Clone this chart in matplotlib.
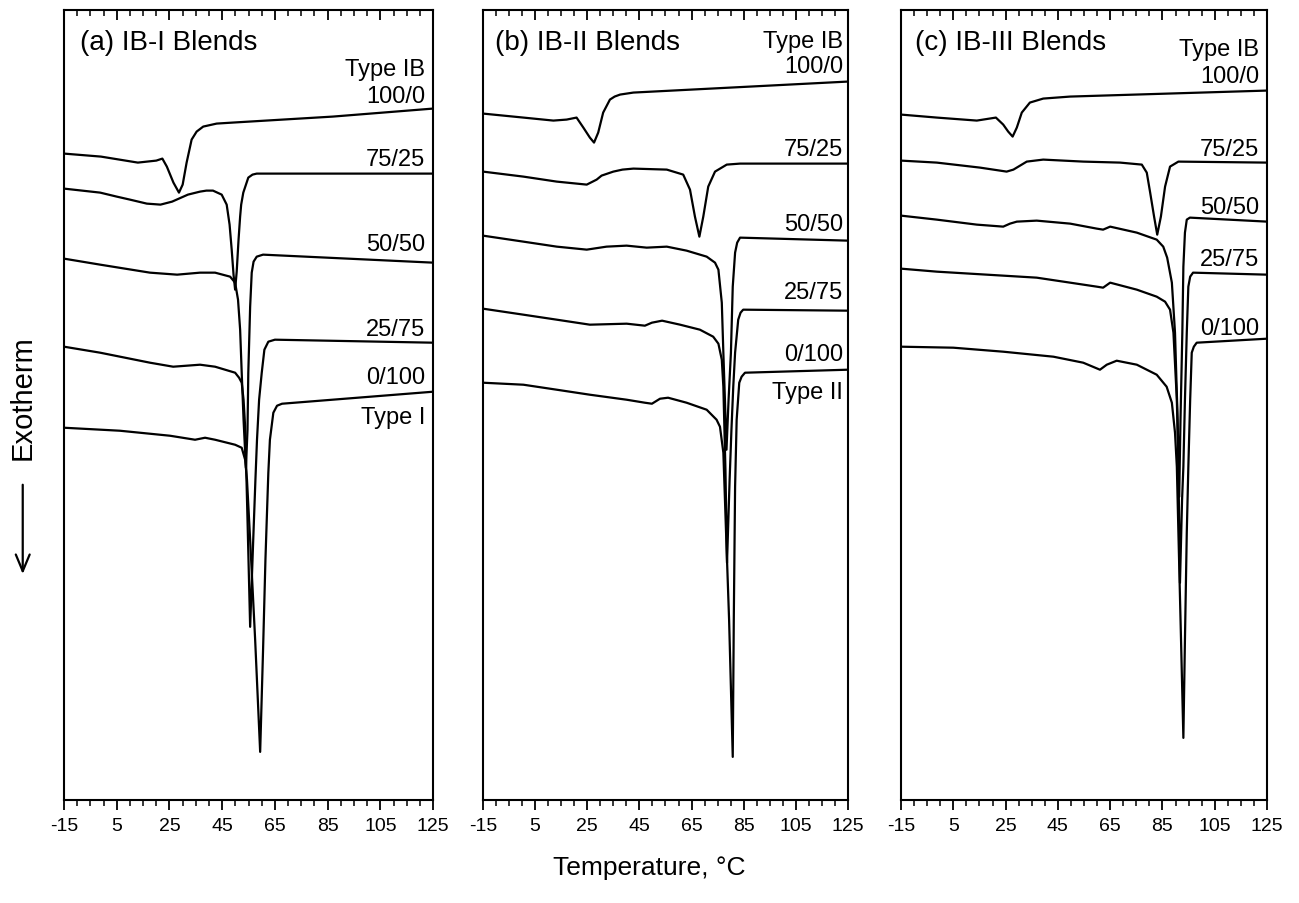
import matplotlib
matplotlib.use('Agg')
import matplotlib.pyplot as plt
import matplotlib.lines as mlines
from matplotlib.patches import FancyArrowPatch

plt.rcParams['font.family'] = ['Liberation Sans', 'DejaVu Sans']

# --- DSC traces (T in degC, signal in arbitrary offset units) ---
# (a) IB-I blends
a_T_100 = [-15, -1, 13, 20, 22.3, 24, 26.5, 28.6, 30, 31.5, 33.4, 35.3, 37.8, 42.9, 49, 87, 125]
a_V_100 = [646, 643, 637, 639, 641, 633, 617, 607, 615, 637, 660, 668, 673, 676, 677, 683, 691]
a_T_75 = [-15, -1.3, 5, 10, 16.4, 21.6, 26, 32, 36.6, 39, 41.5, 44.8, 46.7, 47.8, 48.6, 49.3, 49.9, 50.5, 51.2, 51.8, 52.2, 53, 54.9, 56.5, 58.1, 125]
a_V_75 = [611, 607, 603, 600, 596, 595, 598, 605, 608, 609, 609, 605, 595, 575, 550, 525, 510, 528, 560, 583, 595, 607, 622, 625, 626, 626]
a_T_50 = [-15, -1.3, 17.6, 27.9, 36.6, 42.3, 48, 49.9, 51, 51.8, 52.4, 53.1, 54, 54.6, 54.9, 55.6, 56.2, 56.9, 58.1, 60.5, 125]
a_V_50 = [541, 535, 527, 525, 527, 527, 523, 517, 500, 470, 427, 380, 332, 370, 427, 493, 527, 538, 543, 545, 537]
a_T_25 = [-15, -1.3, 17.6, 26.4, 36.6, 42.3, 49.9, 51.4, 52.4, 53.1, 53.7, 54.6, 55.6, 56.7, 57.6, 58.2, 59, 60, 61, 62.5, 65, 125]
a_V_25 = [453, 447, 437, 433, 435, 433, 427, 422, 417, 400, 373, 280, 173, 255, 320, 360, 400, 427, 450, 458, 460, 457]
a_T_0 = [-15, 6.2, 25.2, 34.7, 38.5, 42.3, 49.9, 52.4, 53.7, 54.4, 55.6, 57.5, 59.4, 60.5, 61.4, 61.9, 62.5, 63.1, 64.4, 65.8, 67.7, 125]
a_V_0 = [372, 369, 364, 360, 362, 360, 355, 352, 340, 320, 260, 160, 48, 150, 240, 280, 327, 360, 387, 394, 396, 408]

# (b) IB-II blends
b_T_100 = [-15, 0.5, 12, 17.1, 20.9, 23.5, 26, 27.6, 29.2, 31.1, 33.7, 35.5, 37.6, 42.7, 125]
b_V_100 = [686, 682, 679, 680, 682, 672, 662, 657, 667, 687, 700, 703, 705, 707, 718]
b_T_75 = [-15, 0.5, 13.3, 24.8, 28.6, 30.5, 35, 38.5, 42.7, 55.5, 61.8, 64.4, 66.3, 68, 69.5, 71.4, 74, 78.5, 83.6, 125]
b_V_75 = [628, 623, 618, 615, 620, 624, 628, 630, 631, 630, 625, 610, 583, 563, 583, 613, 628, 635, 636, 636]
b_T_50 = [-15, 0.5, 13.3, 24.8, 32.4, 40.1, 47.8, 55.5, 63.1, 70.8, 74, 75.3, 76.6, 77.2, 77.8, 78.4, 79.2, 80.1, 80.8, 81.7, 82.5, 83.6, 125]
b_V_50 = [564, 558, 553, 550, 553, 554, 552, 553, 549, 543, 537, 530, 497, 447, 400, 350, 400, 447, 513, 547, 557, 562, 559]
b_T_25 = [-15, 0.5, 13.3, 26, 40.1, 47.1, 49.8, 53.7, 60.6, 68.2, 73.3, 75.3, 76.6, 77.2, 78, 78.6, 79.6, 80.3, 81, 81.7, 82.9, 83.8, 84.8, 125]
b_V_25 = [491, 485, 480, 475, 476, 474, 477, 479, 475, 470, 463, 456, 440, 413, 330, 237, 320, 370, 413, 447, 480, 487, 490, 489]
b_T_0 = [-15, 0.5, 13.3, 26, 40.1, 47.1, 49.8, 52.9, 56, 63.1, 70.8, 74.6, 75.9, 77.2, 78.2, 79.4, 80.8, 81.2, 81.7, 82.3, 83.3, 84.2, 85.5, 125]
b_V_0 = [417, 415, 410, 405, 400, 397, 396, 401, 402, 397, 390, 380, 373, 347, 270, 180, 43, 180, 313, 380, 417, 423, 427, 430]

# (c) IB-III blends
c_T_100 = [-15, -1.3, 14, 21.3, 24.1, 26, 27.7, 29.3, 31.2, 34.3, 39.4, 49.7, 125]
c_V_100 = [685, 682, 679, 682, 675, 668, 663, 672, 687, 697, 701, 703, 709]
c_T_75 = [-15, -1.3, 15.2, 25.4, 28, 33.1, 39.4, 54.7, 68.8, 77.1, 79, 80.3, 81.8, 83, 84.4, 86, 87.9, 91.1, 125]
c_V_75 = [639, 637, 632, 628, 630, 638, 640, 638, 637, 635, 627, 607, 583, 565, 583, 613, 633, 638, 637]
c_T_50 = [-15, -1.3, 14, 24.1, 26.7, 29.3, 36.9, 49.7, 59.9, 62.3, 65, 75.2, 82.8, 85.3, 86.8, 88.6, 89.8, 90.8, 91.4, 91.9, 92.6, 93, 93.6, 94.3, 95.5, 125]
c_V_50 = [584, 580, 575, 573, 576, 578, 579, 576, 571, 570, 573, 567, 560, 553, 542, 517, 467, 380, 303, 380, 467, 533, 567, 580, 582, 578]
c_T_25 = [-15, -1.3, 17.8, 36.9, 49.7, 59.9, 62.3, 65, 75.2, 82.8, 86, 87.9, 89.2, 90.5, 91.1, 91.7, 92.5, 93, 93.6, 94.3, 94.9, 95.6, 96.7, 125]
c_V_25 = [531, 528, 525, 522, 517, 513, 512, 517, 510, 503, 498, 490, 467, 400, 333, 217, 300, 333, 400, 467, 513, 523, 527, 525]
c_T_0 = [-15, 5, 24.1, 43.3, 54.7, 61.1, 63.7, 67.5, 75.2, 82.8, 86.6, 88.6, 89.8, 90.5, 91.1, 92.1, 93, 93.6, 94.3, 94.9, 95.6, 96.2, 97, 98.1, 125]
c_V_0 = [453, 452, 448, 443, 437, 430, 435, 439, 435, 425, 413, 397, 367, 333, 267, 160, 62, 160, 267, 333, 400, 447, 453, 457, 461]

x_major = [-15, 5, 25, 45, 65, 85, 105, 125]
x_minor = list(range(-15, 126, 5))

titles = ['(a) IB-I Blends', '(b) IB-II Blends', '(c) IB-III Blends']
labels_a = ['Type IB', '100/0', '75/25', '50/50', '25/75', '0/100', 'Type I']
labels_b = ['Type IB', '100/0', '75/25', '50/50', '25/75', '0/100', 'Type II']
labels_c = ['Type IB', '100/0', '75/25', '50/50', '25/75', '0/100']

fig = plt.figure(figsize=(12.99, 9.035), dpi=100)

# axes rectangles (figure fraction)
rects = [[0.0493, 0.1141, 0.2841, 0.8748],
         [0.3718, 0.1141, 0.2810, 0.8748],
         [0.6936, 0.1141, 0.2818, 0.8748]]

curves = [
    [(a_T_100, a_V_100), (a_T_75, a_V_75), (a_T_50, a_V_50), (a_T_25, a_V_25), (a_T_0, a_V_0)],
    [(b_T_100, b_V_100), (b_T_75, b_V_75), (b_T_50, b_V_50), (b_T_25, b_V_25), (b_T_0, b_V_0)],
    [(c_T_100, c_V_100), (c_T_75, c_V_75), (c_T_50, c_V_50), (c_T_25, c_V_25), (c_T_0, c_V_0)],
]
# label positions (axes fraction)
label_x = [0.978, 0.986, 0.978]
label_y = [[0.924, 0.890, 0.810, 0.703, 0.595, 0.534, 0.484],
           [0.959, 0.928, 0.823, 0.728, 0.642, 0.563, 0.515],
           [0.949, 0.915, 0.823, 0.749, 0.684, 0.597]]
label_txt = [labels_a, labels_b, labels_c]
title_x = [0.043, 0.033, 0.038]

for i in range(3):
    ax = fig.add_axes(rects[i])
    for T, V in curves[i]:
        ax.plot(T, V, color='black', lw=1.6, solid_joinstyle='round')
    ax.set_xlim(-15, 125)
    ax.set_ylim(0, 790)
    ax.set_yticks([])
    for s in ax.spines.values():
        s.set_linewidth(1.5)
    ax.set_xticks(x_major)
    ax.set_xticks(x_minor, minor=True)
    ax.set_xticklabels([str(v) for v in x_major], fontsize=14)
    ax.tick_params(axis='x', which='major', direction='out', length=7, width=1.3, pad=6,
                   top=True, bottom=True, labeltop=False)
    ax.tick_params(axis='x', which='minor', direction='out', length=4, width=1.1,
                   top=True, bottom=True)
    # bottom ticks point out, top ticks point into the frame
    for t in ax.xaxis.get_major_ticks() + ax.xaxis.get_minor_ticks():
        t.tick2line.set_marker(mlines.TICKDOWN)

    ax.text(title_x[i], 0.958, titles[i], transform=ax.transAxes, fontsize=20,
            ha='left', va='center')
    for txt, yy in zip(label_txt[i], label_y[i]):
        ax.text(label_x[i], yy, txt, transform=ax.transAxes, fontsize=17,
                ha='right', va='center')

fig.text(0.5, 0.039, 'Temperature, \u00b0C', ha='center', va='center', fontsize=19)
fig.text(0.0175, 0.56, 'Exotherm', rotation=90, ha='center', va='center', fontsize=21)
fig.add_artist(FancyArrowPatch(
    (0.0175, 0.466), (0.0175, 0.361), transform=fig.transFigure,
    arrowstyle='->,head_length=0.6,head_width=0.25', mutation_scale=20,
    lw=1.6, color='black'))

fig.savefig('out.png', dpi=100)
